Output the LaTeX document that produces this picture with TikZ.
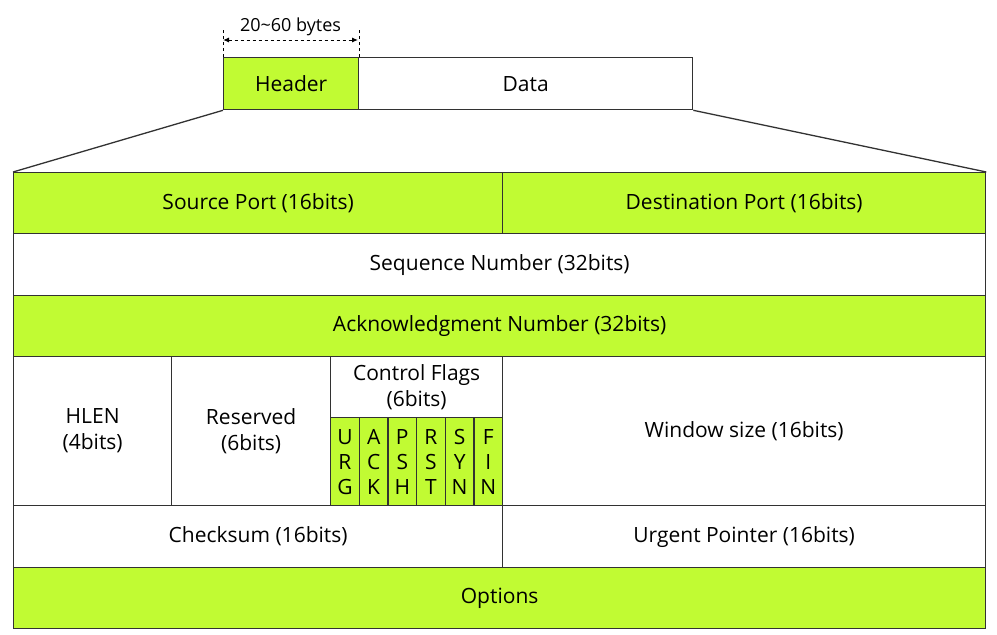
\documentclass[tikz,border=0pt]{standalone}
\usepackage{fontspec}
\setmainfont{Open Sans}
\usetikzlibrary{arrows.meta}
\definecolor{lime}{RGB}{193,251,51}
\definecolor{edge}{RGB}{50,50,50}
\tikzset{
  cell/.style={draw=edge, line width=1.3pt, rectangle, inner sep=0pt, anchor=north west, align=center, font=\fontsize{21}{26}\selectfont},
  gcell/.style={cell, fill=lime},
  wcell/.style={cell, fill=white},
  flag/.style={gcell, minimum width=28.67pt, minimum height=88pt, font=\fontsize{21}{25}\selectfont},
  guide/.style={draw=black, line width=1pt, dashed},
}
\begin{document}
\begin{tikzpicture}[x=1pt,y=-1pt]
\useasboundingbox (0,0) rectangle (997,635);
% top packet
\node[gcell, minimum width=135pt, minimum height=52pt] (hdr) at (223,57) {Header};
\node[wcell, minimum width=334pt, minimum height=52pt] (data) at (358,57) {Data};
\coordinate (dl) at (223,40);
\coordinate (dr) at (358,40);
\draw[guide] (hdr.north west) -- ++(0,-27);
\draw[guide] (hdr.north east) -- ++(0,-27);
\draw[guide, {Latex[length=6pt,width=5pt]}-{Latex[length=6pt,width=5pt]}] (dl) -- (dr)
  node[midway, above=0pt, font=\fontsize{18}{20}\selectfont] (dim) {20\textasciitilde60 bytes};
% table
\node[gcell, minimum width=489pt, minimum height=61pt] (sp) at (13,172) {Source Port (16bits)};
\node[gcell, minimum width=483pt, minimum height=61pt] (dp) at (502,172) {Destination Port (16bits)};
\node[wcell, minimum width=972pt, minimum height=62pt] (seq) at (13,233) {Sequence Number (32bits)};
\node[gcell, minimum width=972pt, minimum height=61pt] (ack) at (13,295) {Acknowledgment Number (32bits)};
\node[wcell, minimum width=158pt, minimum height=149pt] (hlen) at (13,356) {HLEN\\(4bits)};
\node[wcell, minimum width=159pt, minimum height=149pt] (res) at (171,356) {Reserved\\(6bits)};
\node[wcell, minimum width=172pt, minimum height=61pt] (cf) at (330,356) {Control Flags\\(6bits)};
\node[flag] (urg) at (330,417) {U\\R\\G};
\node[flag] (ackf) at (358.67,417) {A\\C\\K};
\node[flag] (psh) at (387.33,417) {P\\S\\H};
\node[flag] (rst) at (416,417) {R\\S\\T};
\node[flag] (syn) at (444.67,417) {S\\Y\\N};
\node[flag] (fin) at (473.33,417) {F\\I\\N};
\node[wcell, minimum width=483pt, minimum height=149pt] (win) at (502,356) {Window size (16bits)};
\node[wcell, minimum width=489pt, minimum height=62pt] (chk) at (13,505) {Checksum (16bits)};
\node[wcell, minimum width=483pt, minimum height=62pt] (urgp) at (502,505) {Urgent Pointer (16bits)};
\node[gcell, minimum width=972pt, minimum height=61pt] (opt) at (13,567) {Options};
% expansion lines
\draw[draw=edge, line width=1.3pt] (hdr.south west) -- (sp.north west);
\draw[draw=edge, line width=1.3pt] (data.south east) -- (dp.north east);
\end{tikzpicture}
\end{document}
